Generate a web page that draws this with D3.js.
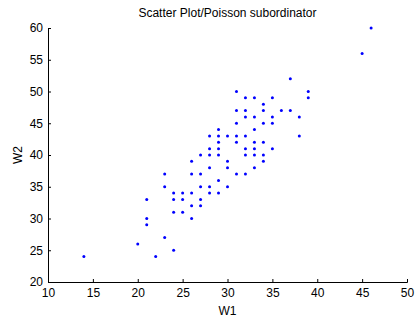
<!DOCTYPE html>
<html>
<head>
<meta charset="utf-8">
<script src="https://cdn.jsdelivr.net/npm/d3@7"></script>
<style>
    body { margin: 0; background: #fff; }
    svg { display: block; font-family: "Liberation Sans", Arial, sans-serif; }
</style>
</head>
<body>
<svg id="chart" width="417" height="322"></svg>
<script>
// W1 values, one per point
let w1 = [14, 20, 21, 21, 21, 22, 23, 23, 23, 24, 24, 24, 24, 25, 25, 25,
    26, 26, 26, 26, 26, 27, 27, 27, 27, 27, 28, 28, 28, 28, 28, 28,
    29, 29, 29, 29, 29, 29, 29, 30, 30, 30, 30, 31, 31, 31, 31, 31, 31,
    32, 32, 32, 32, 32, 32, 32, 33, 33, 33, 33, 33, 33, 33,
    34, 34, 34, 34, 34, 34, 35, 35, 35, 35, 36, 37, 37, 38, 38, 39, 39, 45, 46];
// W2 values, same order
let w2 = [24, 26, 33, 30, 29, 24, 37, 35, 27, 34, 33, 31, 25, 34, 33, 31,
    39, 37, 34, 32, 30, 40, 37, 35, 33, 32, 43, 41, 40, 38, 35, 34,
    44, 43, 42, 41, 40, 36, 34, 43, 39, 38, 35, 50, 47, 45, 43, 42, 37,
    49, 47, 46, 43, 41, 40, 37, 49, 46, 44, 42, 41, 40, 38,
    48, 47, 45, 42, 40, 39, 49, 46, 45, 41, 47, 52, 47, 46, 43, 50, 49, 56, 60];

let xTicks = [10, 15, 20, 25, 30, 35, 40, 45, 50];
let yTicks = [20, 25, 30, 35, 40, 45, 50, 55, 60];

function render() {
    let svg = d3.select("#chart");
    let margin = { top: 28, right: 10, bottom: 40, left: 48 };
    let width = 407 - margin.left;
    let height = 282 - margin.top;

    let xScale = d3.scaleLinear().domain([10, 50]).range([0, width]);
    let yScale = d3.scaleLinear().domain([20, 60]).range([height, 0]);

    let g = svg.append("g")
        .attr("transform", "translate(" + margin.left + "," + margin.top + ")");

    let xAxis = g.append("g")
        .attr("transform", "translate(0," + height + ")")
        .call(d3.axisBottom(xScale).tickValues(xTicks).tickSize(-3).tickPadding(6));

    let yAxis = g.append("g")
        .call(d3.axisLeft(yScale).tickValues(yTicks).tickSize(-3).tickPadding(5));

    [xAxis, yAxis].forEach(a => {
        a.select(".domain").attr("stroke", "#000");
        a.selectAll(".tick line").attr("stroke", "#000");
        a.selectAll(".tick text")
            .attr("fill", "#000")
            .attr("font-size", "12px")
            .attr("font-family", "Liberation Sans, Arial, sans-serif");
    });
    yAxis.selectAll(".tick text").attr("dy", "0.32em");

    let points = w1.map((d, i) => ({ x: d, y: w2[i] }));

    g.selectAll(".pt")
        .data(points)
        .enter()
        .append("circle")
        .classed("pt", true)
        .attr("cx", d => xScale(d.x))
        .attr("cy", d => yScale(d.y))
        .attr("r", 1.5)
        .attr("fill", "#0000ff");

    svg.append("text")
        .attr("x", margin.left + width / 2)
        .attr("y", 17)
        .attr("font-size", "12px")
        .style("text-anchor", "middle")
        .text("Scatter Plot/Poisson subordinator");

    svg.append("text")
        .attr("x", margin.left + width / 2)
        .attr("y", 315)
        .attr("font-size", "12px")
        .style("text-anchor", "middle")
        .text("W1");

    svg.append("text")
        .attr("transform", "translate(22," + (margin.top + height / 2) + ") rotate(-90)")
        .attr("font-size", "12px")
        .style("text-anchor", "middle")
        .text("W2");
}

render();
</script>
</body>
</html>
